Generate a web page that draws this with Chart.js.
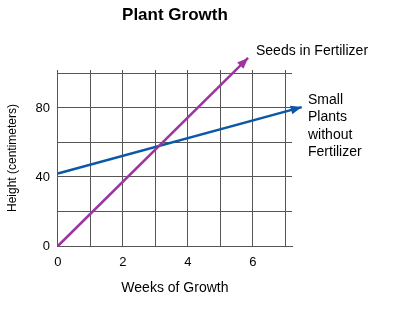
<!DOCTYPE html>
<html>
<head>
<meta charset="utf-8">
<style>
  html, body { margin: 0; padding: 0; background: #fff; }
  #wrap { width: 400px; height: 322px; }
</style>
<script src="https://cdn.jsdelivr.net/npm/chart.js@4/dist/chart.umd.min.js"></script>
</head>
<body>
<div id="wrap"><canvas id="growthChart"></canvas></div>
<script>
const weekTicks = [0, 1, 2, 3, 4, 5, 6, 7];
const weekLabels = ["0", "", "2", "", "4", "", "6", ""];
const heightTicks = [0, 20, 40, 60, 80, 100];
const heightLabels = ["0", "", "40", "", "80", ""];

const seedWeeks = [0, 5.85];
const seedHeights = [0, 109];
const plantWeeks = [0, 7.5];
const plantHeights = [42, 80.5];

const seedColor = "#9c35a0";
const plantColor = "#0b58a6";
const gridColor = "#555555";
const font = "'Liberation Sans', Arial, sans-serif";

function toPoints(xs, ys) {
  return xs.map((x, i) => ({ x, y: ys[i] }));
}

// arrow heads at the end of each line + title and line labels
const arrowPlugin = {
  id: "arrows",
  afterDatasetsDraw(chart) {
    const ctx = chart.ctx;
    chart.data.datasets.forEach((ds, i) => {
      const meta = chart.getDatasetMeta(i);
      const pts = meta.data;
      if (pts.length < 2) return;
      const a = pts[pts.length - 2];
      const b = pts[pts.length - 1];
      const ang = Math.atan2(b.y - a.y, b.x - a.x);
      const len = 11;
      const half = 4.5;
      ctx.save();
      ctx.translate(b.x, b.y);
      ctx.rotate(ang);
      ctx.fillStyle = ds.borderColor;
      ctx.beginPath();
      ctx.moveTo(0, 0);
      ctx.lineTo(-len, -half);
      ctx.lineTo(-len, half);
      ctx.closePath();
      ctx.fill();
      ctx.restore();
    });
  },
  afterDraw(chart) {
    const ctx = chart.ctx;
    const area = chart.chartArea;
    ctx.save();
    ctx.fillStyle = "#000";
    ctx.textBaseline = "middle";
    ctx.textAlign = "center";
    ctx.font = "bold 17px " + font;
    ctx.fillText("Plant Growth", (area.left + area.right) / 2, 15);

    ctx.textAlign = "left";
    ctx.font = "14px " + font;
    ctx.fillText("Seeds in Fertilizer", 256, 51);
    ["Small", "Plants", "without", "Fertilizer"].forEach((line, i) => {
      ctx.fillText(line, 308, 100 + i * 17.5);
    });
    ctx.restore();
  }
};

new Chart(document.getElementById("growthChart"), {
  type: "scatter",
  data: {
    datasets: [
      {
        label: "Seeds in Fertilizer",
        data: toPoints(seedWeeks, seedHeights),
        showLine: true,
        borderColor: seedColor,
        borderWidth: 2.5,
        pointRadius: 0,
        clip: false
      },
      {
        label: "Small Plants without Fertilizer",
        data: toPoints(plantWeeks, plantHeights),
        showLine: true,
        borderColor: plantColor,
        borderWidth: 2.5,
        pointRadius: 0,
        clip: false
      }
    ]
  },
  options: {
    responsive: true,
    maintainAspectRatio: false,
    animation: false,
    layout: {
      padding: { top: 70, right: 108, bottom: 25.6, left: 1 }
    },
    plugins: {
      legend: { display: false },
      tooltip: { enabled: false },
      title: { display: false }
    },
    scales: {
      x: {
        type: "linear",
        min: 0,
        max: 7.2,
        afterBuildTicks: (scale) => {
          scale.ticks = weekTicks.map((v) => ({ value: v }));
        },
        ticks: {
          callback: (v) => weekLabels[weekTicks.indexOf(v)] ?? "",
          color: "#000",
          padding: 9,
          maxRotation: 0,
          autoSkip: false,
          font: { family: font, size: 13 }
        },
        grid: { color: gridColor, lineWidth: 1, drawTicks: false },
        border: { display: true, color: gridColor, width: 1 },
        title: {
          display: true,
          text: "Weeks of Growth",
          color: "#000",
          padding: { top: 0, bottom: 0 },
          font: { family: font, size: 14 }
        }
      },
      y: {
        type: "linear",
        min: 0,
        max: 102,
        afterBuildTicks: (scale) => {
          scale.ticks = heightTicks.map((v) => ({ value: v }));
        },
        ticks: {
          callback: (v) => heightLabels[heightTicks.indexOf(v)] ?? "",
          color: "#000",
          padding: 8,
          autoSkip: false,
          font: { family: font, size: 13 }
        },
        grid: { color: gridColor, lineWidth: 1, drawTicks: false },
        border: { display: true, color: gridColor, width: 1 },
        title: {
          display: true,
          text: "Height (centimeters)",
          color: "#000",
          padding: { top: 4, bottom: 8 },
          font: { family: font, size: 12 }
        }
      }
    }
  },
  plugins: [arrowPlugin]
});
</script>
</body>
</html>
